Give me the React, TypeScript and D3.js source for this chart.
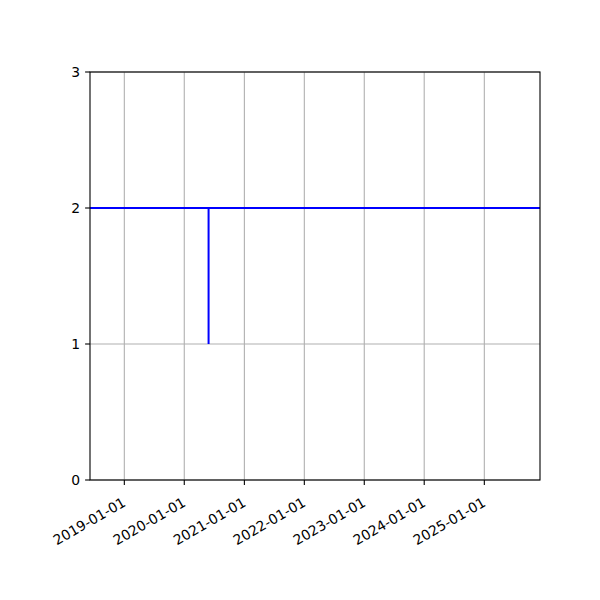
import React from 'react';
import * as d3 from 'd3';

// step series: constant 2 with a one-day drop to 1
const dates = ['2018-06-06', '2020-05-28', '2020-05-28', '2020-05-28', '2025-12-06'];
const values = [2, 2, 1, 2, 2];
const xTicks = ['2019-01-01', '2020-01-01', '2021-01-01', '2022-01-01', '2023-01-01', '2024-01-01', '2025-01-01'];
const yTicks = [0, 1, 2, 3];

const parse = d3.timeParse('%Y-%m-%d');

function App() {
  const width = 600;
  const height = 600;
  const margin = { left: 90, right: 60, top: 72, bottom: 120 };
  const font = 'DejaVu Sans, sans-serif';

  const x = d3
    .scaleTime()
    .domain([parse('2018-06-06') as Date, parse('2025-12-06') as Date])
    .range([margin.left, width - margin.right]);
  const y = d3.scaleLinear().domain([0, 3]).range([height - margin.bottom, margin.top]);

  const points = dates.map((d, i) => ({ date: parse(d) as Date, value: values[i] }));
  const line = d3
    .line<{ date: Date; value: number }>()
    .x((d) => x(d.date))
    .y((d) => y(d.value));

  const bottom = height - margin.bottom;

  return (
    <svg width={width} height={height} style={{ position: 'absolute', left: 0, top: 0, background: '#fff' }}>
      {/* grid */}
      {xTicks.map((t) => (
        <line key={'gx' + t} x1={x(parse(t) as Date)} x2={x(parse(t) as Date)} y1={margin.top} y2={bottom} stroke="#b0b0b0" strokeWidth={1.1} />
      ))}
      {yTicks.map((t) => (
        <line key={'gy' + t} x1={margin.left} x2={width - margin.right} y1={y(t)} y2={y(t)} stroke="#b0b0b0" strokeWidth={1.1} />
      ))}

      <clipPath id="plot">
        <rect x={margin.left} y={margin.top} width={width - margin.left - margin.right} height={bottom - margin.top} />
      </clipPath>
      <path d={line(points) || ''} fill="none" stroke="#0000ff" strokeWidth={2} clipPath="url(#plot)" />

      {/* frame */}
      <rect x={margin.left} y={margin.top} width={width - margin.left - margin.right} height={bottom - margin.top} fill="none" stroke="#000" strokeWidth={1.1} />

      {/* x ticks */}
      {xTicks.map((t) => {
        const px = x(parse(t) as Date);
        return (
          <g key={'xt' + t}>
            <line x1={px} x2={px} y1={bottom} y2={bottom + 4.9} stroke="#000" strokeWidth={1.1} />
            <text
              transform={`translate(${px - 2.6},${bottom + 16.5}) rotate(-30)`}
              dy={10.1}
              textAnchor="end"
              fontFamily={font}
              fontSize={13.9}
              fill="#000"
            >
              {t}
            </text>
          </g>
        );
      })}

      {/* y ticks */}
      {yTicks.map((t) => (
        <g key={'yt' + t}>
          <line x1={margin.left - 4.9} x2={margin.left} y1={y(t)} y2={y(t)} stroke="#000" strokeWidth={1.1} />
          <text x={margin.left - 9.8} y={y(t)} dy="0.35em" textAnchor="end" fontFamily={font} fontSize={13.9} fill="#000">
            {t}
          </text>
        </g>
      ))}
    </svg>
  );
}

export default App;
